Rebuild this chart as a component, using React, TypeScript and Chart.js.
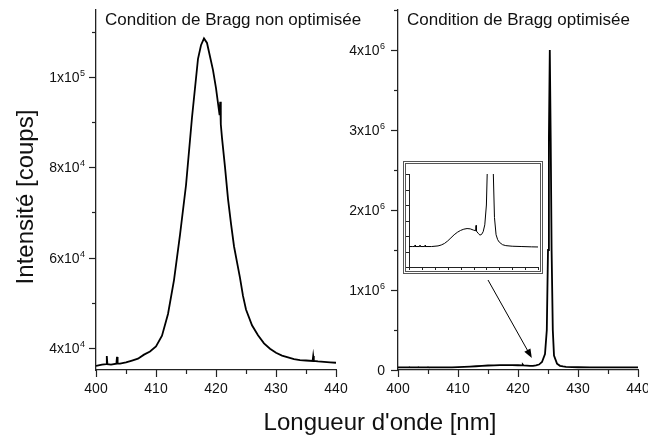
import React, { useEffect, useRef } from 'react';
import { Chart, registerables } from 'chart.js';

Chart.register(...registerables);

const W = 648;
const H = 436;
const FONT = "'Liberation Sans', Arial, Helvetica, sans-serif";
const INK = '#111';
const AXIS = '#222';

// ---------- texts ----------
const leftTitle = 'Condition de Bragg non optimisée';
const rightTitle = 'Condition de Bragg optimisée';
const yAxisTitle = 'Intensité [coups]';
const xAxisTitle = "Longueur d'onde [nm]";

// ---------- ticks ----------
const wavelengthTicks = [400, 405, 410, 415, 420, 425, 430, 435, 440];
const wavelengthMajor = [400, 410, 420, 430, 440];
const leftCountTicks = [40000, 50000, 60000, 70000, 80000, 90000, 100000, 110000];
const leftCountMajor = [40000, 60000, 80000, 100000];
const rightCountTicks = [0, 500000, 1000000, 1500000, 2000000, 2500000, 3000000, 3500000, 4000000, 4500000];
const rightCountMajor = [0, 1000000, 2000000, 3000000, 4000000];
const insetWavelengthTicks = [400, 404, 408, 412, 416, 420, 424, 428, 432, 436, 440];
const insetCountTicks = [0, 25000, 50000, 75000, 100000, 125000, 150000];

// ---------- ranges ----------
const wavelengthRange = [400, 440];
const leftCountRange = [35100, 114800];
const rightCountRange = [0, 4500000];
const insetCountRange = [0, 150000];

// ---------- data: non-optimised Bragg condition ----------
const leftWavelength = [
  400, 401, 401.7, 401.8, 401.9, 402.5, 403.4, 403.5, 403.6, 404, 405, 406, 407, 408, 409,
  410, 411, 412, 413, 414, 415, 416, 417, 417.5, 418, 418.5, 419, 419.5, 420, 420.6, 420.7,
  420.8, 421, 421.5, 422, 422.5, 423, 423.5, 424, 424.5, 425, 426, 427, 428, 429, 430, 431,
  432, 433, 434, 435, 436.1, 436.2, 436.3, 437, 438, 439, 440,
];
const leftCounts = [
  36000, 36300, 36400, 38200, 36400, 36300, 36500, 38000, 36500, 36500, 36800, 37200, 37600, 38500, 39200,
  40300, 42700, 47500, 55000, 65000, 76000, 91000, 104000, 107000, 108500, 107500, 104500, 101500, 97500, 91500, 94500,
  89500, 86500, 80000, 73000, 67500, 62500, 59000, 55500, 51500, 48500, 45000, 42800, 41000, 39800, 38900, 38300,
  37900, 37500, 37300, 37200, 37100, 38200, 37100, 37000, 36900, 36800, 36700,
];

// ---------- data: optimised Bragg condition ----------
const rightWavelength = [
  400, 401, 401.8, 401.9, 402, 403.3, 403.4, 403.5, 404.9, 405, 405.1, 407, 409, 410, 411, 412,
  413, 414, 415, 416, 417, 418, 419, 420, 420.7, 420.8, 420.9, 421.5, 422, 422.5, 423, 423.5,
  424, 424.5, 424.8, 425, 425.15, 425.3, 425.45, 425.6, 425.8, 426, 426.5, 427, 427.5, 428, 429,
  430, 432, 435, 438, 440,
];
const rightCounts = [
  33000, 33000, 33000, 35500, 33000, 33000, 35500, 33000, 33000, 35000, 33000, 33000, 34000, 35500, 38000, 42000,
  47000, 52000, 56000, 59000, 61000, 62000, 61500, 59500, 58500, 67000, 58000, 54000, 51500, 52500, 57000, 68000,
  100000, 200000, 500000, 1500000, 2900000, 4000000, 2900000, 1500000, 500000, 180000, 80000, 52000, 44000, 40000, 36000,
  34500, 33500, 33000, 32500, 32300,
];

// arrow from the inset towards the baseline region (data coordinates of the right panel)
const arrowFrom = [415.0, 1125000];
const arrowTo = [422.3, 150000];

function splitSci(v: number): [string, string] {
  if (v === 0) return ['0', ''];
  const e = Math.floor(Math.log10(v) + 1e-9);
  const m = Math.round(v / Math.pow(10, e));
  return [`${m}x10`, String(e)];
}

function toPoints(xs: number[], ys: number[]) {
  return xs.map((x, i) => ({ x, y: ys[i] }));
}

function setTicks(list: number[], majors: number[]) {
  return (scale: any) => {
    scale.ticks = list.map((v) => ({ value: v, major: majors.includes(v) }));
  };
}

function tickMarks(majorLen: number, minorLen: number, width: number) {
  return {
    id: 'tickMarks',
    afterDraw(chart: any) {
      const ctx = chart.ctx;
      const xs = chart.scales.x;
      const ys = chart.scales.y;
      const ca = chart.chartArea;
      ctx.save();
      ctx.strokeStyle = AXIS;
      ctx.lineWidth = width;
      for (const t of xs.ticks) {
        const px = Math.round(xs.getPixelForValue(t.value)) + 0.5;
        const len = t.major ? majorLen : minorLen;
        ctx.beginPath();
        ctx.moveTo(px, ca.bottom);
        ctx.lineTo(px, ca.bottom + len);
        ctx.stroke();
      }
      for (const t of ys.ticks) {
        const py = Math.round(ys.getPixelForValue(t.value)) + 0.5;
        const len = t.major ? majorLen : minorLen;
        ctx.beginPath();
        ctx.moveTo(ca.left, py);
        ctx.lineTo(ca.left - len, py);
        ctx.stroke();
      }
      ctx.restore();
    },
  };
}

// y tick labels in "m x 10^e" form with a raised exponent
function sciLabels(gap: number) {
  return {
    id: 'sciLabels',
    afterDraw(chart: any) {
      const ctx = chart.ctx;
      const ys = chart.scales.y;
      const ca = chart.chartArea;
      const xEnd = ca.left - gap;
      ctx.save();
      ctx.fillStyle = INK;
      ctx.textAlign = 'right';
      ctx.textBaseline = 'alphabetic';
      for (const t of ys.ticks) {
        if (!t.major) continue;
        const py = ys.getPixelForValue(t.value);
        const [base, exp] = splitSci(t.value);
        let x = xEnd;
        if (exp) {
          ctx.font = `9px ${FONT}`;
          ctx.fillText(exp, x, py - 1);
          x -= ctx.measureText(exp).width + 0.5;
        }
        ctx.font = `14px ${FONT}`;
        ctx.fillText(base, x, py + 5);
      }
      ctx.restore();
    },
  };
}

function panelTitle(text: string, dx: number) {
  return {
    id: 'panelTitle',
    afterDraw(chart: any) {
      const ctx = chart.ctx;
      const ca = chart.chartArea;
      ctx.save();
      ctx.fillStyle = INK;
      ctx.font = `17px ${FONT}`;
      ctx.textAlign = 'left';
      ctx.textBaseline = 'alphabetic';
      ctx.fillText(text, ca.left + dx, ca.top + 15);
      ctx.restore();
    },
  };
}

const globalTitles = {
  id: 'globalTitles',
  afterDraw(chart: any) {
    const ctx = chart.ctx;
    ctx.save();
    ctx.fillStyle = INK;
    ctx.font = `24px ${FONT}`;
    ctx.textAlign = 'center';
    ctx.textBaseline = 'alphabetic';
    ctx.fillText(xAxisTitle, 380, 430);
    ctx.translate(33, 197);
    ctx.rotate(-Math.PI / 2);
    ctx.fillText(yAxisTitle, 0, 0);
    ctx.restore();
  },
};

const arrowPlugin = {
  id: 'arrow',
  afterDatasetsDraw(chart: any) {
    const xs = chart.scales.x;
    const ys = chart.scales.y;
    const x0 = xs.getPixelForValue(arrowFrom[0]);
    const y0 = ys.getPixelForValue(arrowFrom[1]);
    const x1 = xs.getPixelForValue(arrowTo[0]);
    const y1 = ys.getPixelForValue(arrowTo[1]);
    const ang = Math.atan2(y1 - y0, x1 - x0);
    const ctx = chart.ctx;
    ctx.save();
    ctx.strokeStyle = '#000';
    ctx.fillStyle = '#000';
    ctx.lineWidth = 1;
    ctx.beginPath();
    ctx.moveTo(x0, y0);
    ctx.lineTo(x1 - 6 * Math.cos(ang), y1 - 6 * Math.sin(ang));
    ctx.stroke();
    const hl = 9;
    const hw = 3.5;
    ctx.beginPath();
    ctx.moveTo(x1, y1);
    ctx.lineTo(x1 - hl * Math.cos(ang) + hw * Math.sin(ang), y1 - hl * Math.sin(ang) - hw * Math.cos(ang));
    ctx.lineTo(x1 - hl * Math.cos(ang) - hw * Math.sin(ang), y1 - hl * Math.sin(ang) + hw * Math.cos(ang));
    ctx.closePath();
    ctx.fill();
    ctx.restore();
  },
};

const insetFrame = {
  id: 'insetFrame',
  beforeDraw(chart: any) {
    const ca = chart.chartArea;
    const x = ca.left - 6;
    const y = ca.top - 13;
    const w = ca.right - ca.left + 11;
    const h = ca.bottom - ca.top + 20;
    const ctx = chart.ctx;
    ctx.save();
    ctx.fillStyle = '#fff';
    ctx.fillRect(x, y, w, h);
    ctx.strokeStyle = '#555';
    ctx.lineWidth = 1;
    ctx.strokeRect(x + 0.5, y + 0.5, w - 1, h - 1);
    ctx.strokeRect(x + 2.5, y + 2.5, w - 5, h - 5);
    ctx.restore();
  },
};

function baseConfig(opts: {
  xs: number[];
  ys: number[];
  yRange: number[];
  xTickList: number[];
  xMajor: number[];
  yTickList: number[];
  yMajor: number[];
  padding: any;
  yWidth: number;
  xHeight: number;
  showLabels: boolean;
  lineWidth: number;
  axisWidth: number;
  plugins: any[];
}) {
  return {
    type: 'line' as const,
    data: {
      datasets: [
        {
          data: toPoints(opts.xs, opts.ys),
          borderColor: '#000',
          borderWidth: opts.lineWidth,
          pointRadius: 0,
          tension: 0,
          fill: false,
        },
      ],
    },
    options: {
      responsive: false,
      animation: false,
      devicePixelRatio: 1,
      events: [],
      layout: { padding: opts.padding },
      plugins: { legend: { display: false }, tooltip: { enabled: false }, title: { display: false } },
      scales: {
        x: {
          type: 'linear',
          min: wavelengthRange[0],
          max: wavelengthRange[1],
          afterBuildTicks: setTicks(opts.xTickList, opts.xMajor),
          afterFit: (s: any) => {
            s.height = opts.xHeight;
            s.paddingLeft = 0;
            s.paddingRight = 0;
          },
          grid: { display: false, drawTicks: false, drawOnChartArea: false },
          border: { display: true, color: AXIS, width: opts.axisWidth },
          ticks: {
            display: opts.showLabels,
            autoSkip: false,
            maxRotation: 0,
            padding: 11,
            color: INK,
            font: { family: FONT, size: 14 },
            callback: (v: any) => (opts.xMajor.includes(v) ? String(v) : ''),
          },
        },
        y: {
          type: 'linear',
          min: opts.yRange[0],
          max: opts.yRange[1],
          afterBuildTicks: setTicks(opts.yTickList, opts.yMajor),
          afterFit: (s: any) => {
            s.width = opts.yWidth;
            s.paddingTop = 0;
            s.paddingBottom = 0;
          },
          grid: { display: false, drawTicks: false, drawOnChartArea: false },
          border: { display: true, color: AXIS, width: opts.axisWidth },
          ticks: { display: false },
        },
      },
    },
    plugins: opts.plugins,
  };
}

export default function App() {
  const leftRef = useRef<HTMLCanvasElement>(null);
  const rightRef = useRef<HTMLCanvasElement>(null);
  const insetRef = useRef<HTMLCanvasElement>(null);

  useEffect(() => {
    Chart.defaults.font.family = FONT;
    const left = new Chart(
      leftRef.current as HTMLCanvasElement,
      baseConfig({
        xs: leftWavelength,
        ys: leftCounts,
        yRange: leftCountRange,
        xTickList: wavelengthTicks,
        xMajor: wavelengthMajor,
        yTickList: leftCountTicks,
        yMajor: leftCountMajor,
        padding: { left: 0, right: 312, top: 10, bottom: 0 },
        yWidth: 96,
        xHeight: 66,
        showLabels: true,
        lineWidth: 1.8,
        axisWidth: 1.3,
        plugins: [tickMarks(7, 4, 1.2), sciLabels(11), panelTitle(leftTitle, 9), globalTitles],
      }) as any
    );
    const right = new Chart(
      rightRef.current as HTMLCanvasElement,
      baseConfig({
        xs: rightWavelength,
        ys: rightCounts,
        yRange: rightCountRange,
        xTickList: wavelengthTicks,
        xMajor: wavelengthMajor,
        yTickList: rightCountTicks,
        yMajor: rightCountMajor,
        padding: { left: 338, right: 10, top: 10, bottom: 0 },
        yWidth: 60,
        xHeight: 66,
        showLabels: true,
        lineWidth: 1.8,
        axisWidth: 1.3,
        plugins: [tickMarks(7, 4, 1.2), sciLabels(13), panelTitle(rightTitle, 9), arrowPlugin],
      }) as any
    );
    const inset = new Chart(
      insetRef.current as HTMLCanvasElement,
      baseConfig({
        xs: rightWavelength,
        ys: rightCounts,
        yRange: insetCountRange,
        xTickList: insetWavelengthTicks,
        xMajor: [],
        yTickList: insetCountTicks,
        yMajor: [],
        padding: { left: 409, right: 110, top: 174, bottom: 169 },
        yWidth: 0,
        xHeight: 0,
        showLabels: false,
        lineWidth: 1,
        axisWidth: 1,
        plugins: [insetFrame, tickMarks(3, 3, 1)],
      }) as any
    );
    return () => {
      left.destroy();
      right.destroy();
      inset.destroy();
    };
  }, []);

  const cv: React.CSSProperties = { position: 'absolute', left: 0, top: 0, width: W, height: H };
  return (
    <div style={{ position: 'absolute', left: 0, top: 0, width: W, height: H, background: '#fff', overflow: 'hidden' }}>
      <canvas ref={leftRef} width={W} height={H} style={cv} />
      <canvas ref={rightRef} width={W} height={H} style={cv} />
      <canvas ref={insetRef} width={W} height={H} style={cv} />
    </div>
  );
}
